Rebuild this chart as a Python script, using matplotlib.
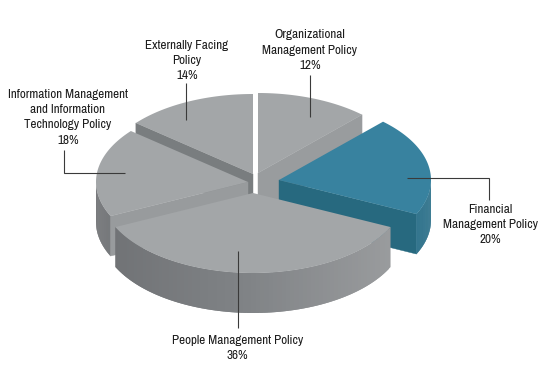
import numpy as np
import matplotlib
matplotlib.use("Agg")
import matplotlib.pyplot as plt
from matplotlib.colors import to_rgb
from matplotlib import font_manager as fm

# Data
categories = ["Organizational\nManagement Policy", "Financial\nManagement Policy",
              "People Management Policy", "Information Management\nand Information\nTechnology Policy",
              "Externally Facing\nPolicy"]
shares = [12, 20, 36, 18, 14]

# Style / layout (pixel space)
apex = [(258, 173), (279, 180), (253, 193), (248, 182), (253, 174)]
RX, RY, DEPTH = 152, 80, 40
top_col = ["#a3a6a8", "#38829f", "#a3a6a8", "#a3a6a8", "#a3a6a8"]
label_xy = [(310, 35), (490.5, 209.5), (237.5, 340), (68, 94.5), (187, 45.5)]
leaders = [[(310, 75), (310, 117)], [(407, 178), (489, 178), (489, 200)],
           [(238, 251), (238, 328)], [(64, 150), (64, 173), (125, 173)],
           [(186, 83), (186, 120)]]
draw_order = [4, 0, 3, 1, 2]

names = sorted({f.name for f in fm.fontManager.ttflist})
narrow = [n for n in names if "narrow" in n.lower() or "condensed" in n.lower()]
if narrow:
    family, size = [narrow[0], "DejaVu Sans"], 9.45
else:
    family, size = ["Roboto", "DejaVu Sans"], 8.1

fig = plt.figure(figsize=(5.45, 3.84), dpi=100)
ax = fig.add_axes([0, 0, 1, 1])
ax.set_xlim(0, 545)
ax.set_ylim(384, 0)
ax.axis("off")

fractions = np.array(shares) / sum(shares)
ends = np.cumsum(fractions) * 2 * np.pi
starts = ends - fractions * 2 * np.pi


def rim(i, a):
    cx, cy = apex[i]
    return cx + RX * np.sin(a), cy - RY * np.cos(a)


def lerp(c1, c2, t):
    a, b = np.array(to_rgb(c1)), np.array(to_rgb(c2))
    return tuple(a + (b - a) * t)


def wall_color(i, x):
    if i == 1:
        return "#2a6f89"
    t = (x - 96) / (393 - 96)
    if t < 0.5:
        return lerp("#6f7174", "#808386", t / 0.5)
    return lerp("#808386", "#9a9c9e", (t - 0.5) / 0.5)


def cut_face(i, a, color):
    cx, cy = apex[i]
    x, y = rim(i, a)
    ax.fill([cx, x, x, cx], [cy, y, y + DEPTH, cy + DEPTH], color=color, lw=0.3, ec=color)


for i in draw_order:
    s, e = starts[i], ends[i]
    # straight cut faces that turn toward the viewer
    if i == 0:
        cut_face(i, e, "#999c9e")
    if i == 1:
        cut_face(i, e, "#27697f")
    if i == 3:
        cut_face(i, s, "#989b9d")
    if i == 4:
        cut_face(i, s, "#797d7f")
    # outer wall
    lo, hi = max(s, np.pi / 2), min(e, 3 * np.pi / 2)
    if hi > lo:
        aa = np.linspace(lo, hi, 80)
        for j in range(len(aa) - 1):
            a0, a1 = aa[j], aa[min(j + 2, len(aa) - 1)]
            x0, y0 = rim(i, a0)
            x1, y1 = rim(i, a1)
            c = wall_color(i, (x0 + x1) / 2)
            ax.fill([x0, x1, x1, x0], [y0, y1, y1 + DEPTH, y0 + DEPTH], color=c, lw=0)
    # top face
    aa = np.linspace(s, e, 120)
    xs, ys = rim(i, aa)
    ax.fill(np.r_[apex[i][0], xs], np.r_[apex[i][1], ys], color=top_col[i], lw=0)

for pts in leaders:
    px, py = zip(*pts)
    ax.plot(px, py, color="#3a3a3a", lw=0.8, solid_joinstyle="miter", solid_capstyle="butt")

for name, share, (x, y) in zip(categories, shares, label_xy):
    lines = name.split("\n") + [f"{share}%"]
    for k, line in enumerate(lines):
        ax.text(x, y + k * 15.2, line, ha="center", va="center", fontsize=size,
                family=family, color="#1c1c1c")

fig.savefig("out.png", dpi=100)
